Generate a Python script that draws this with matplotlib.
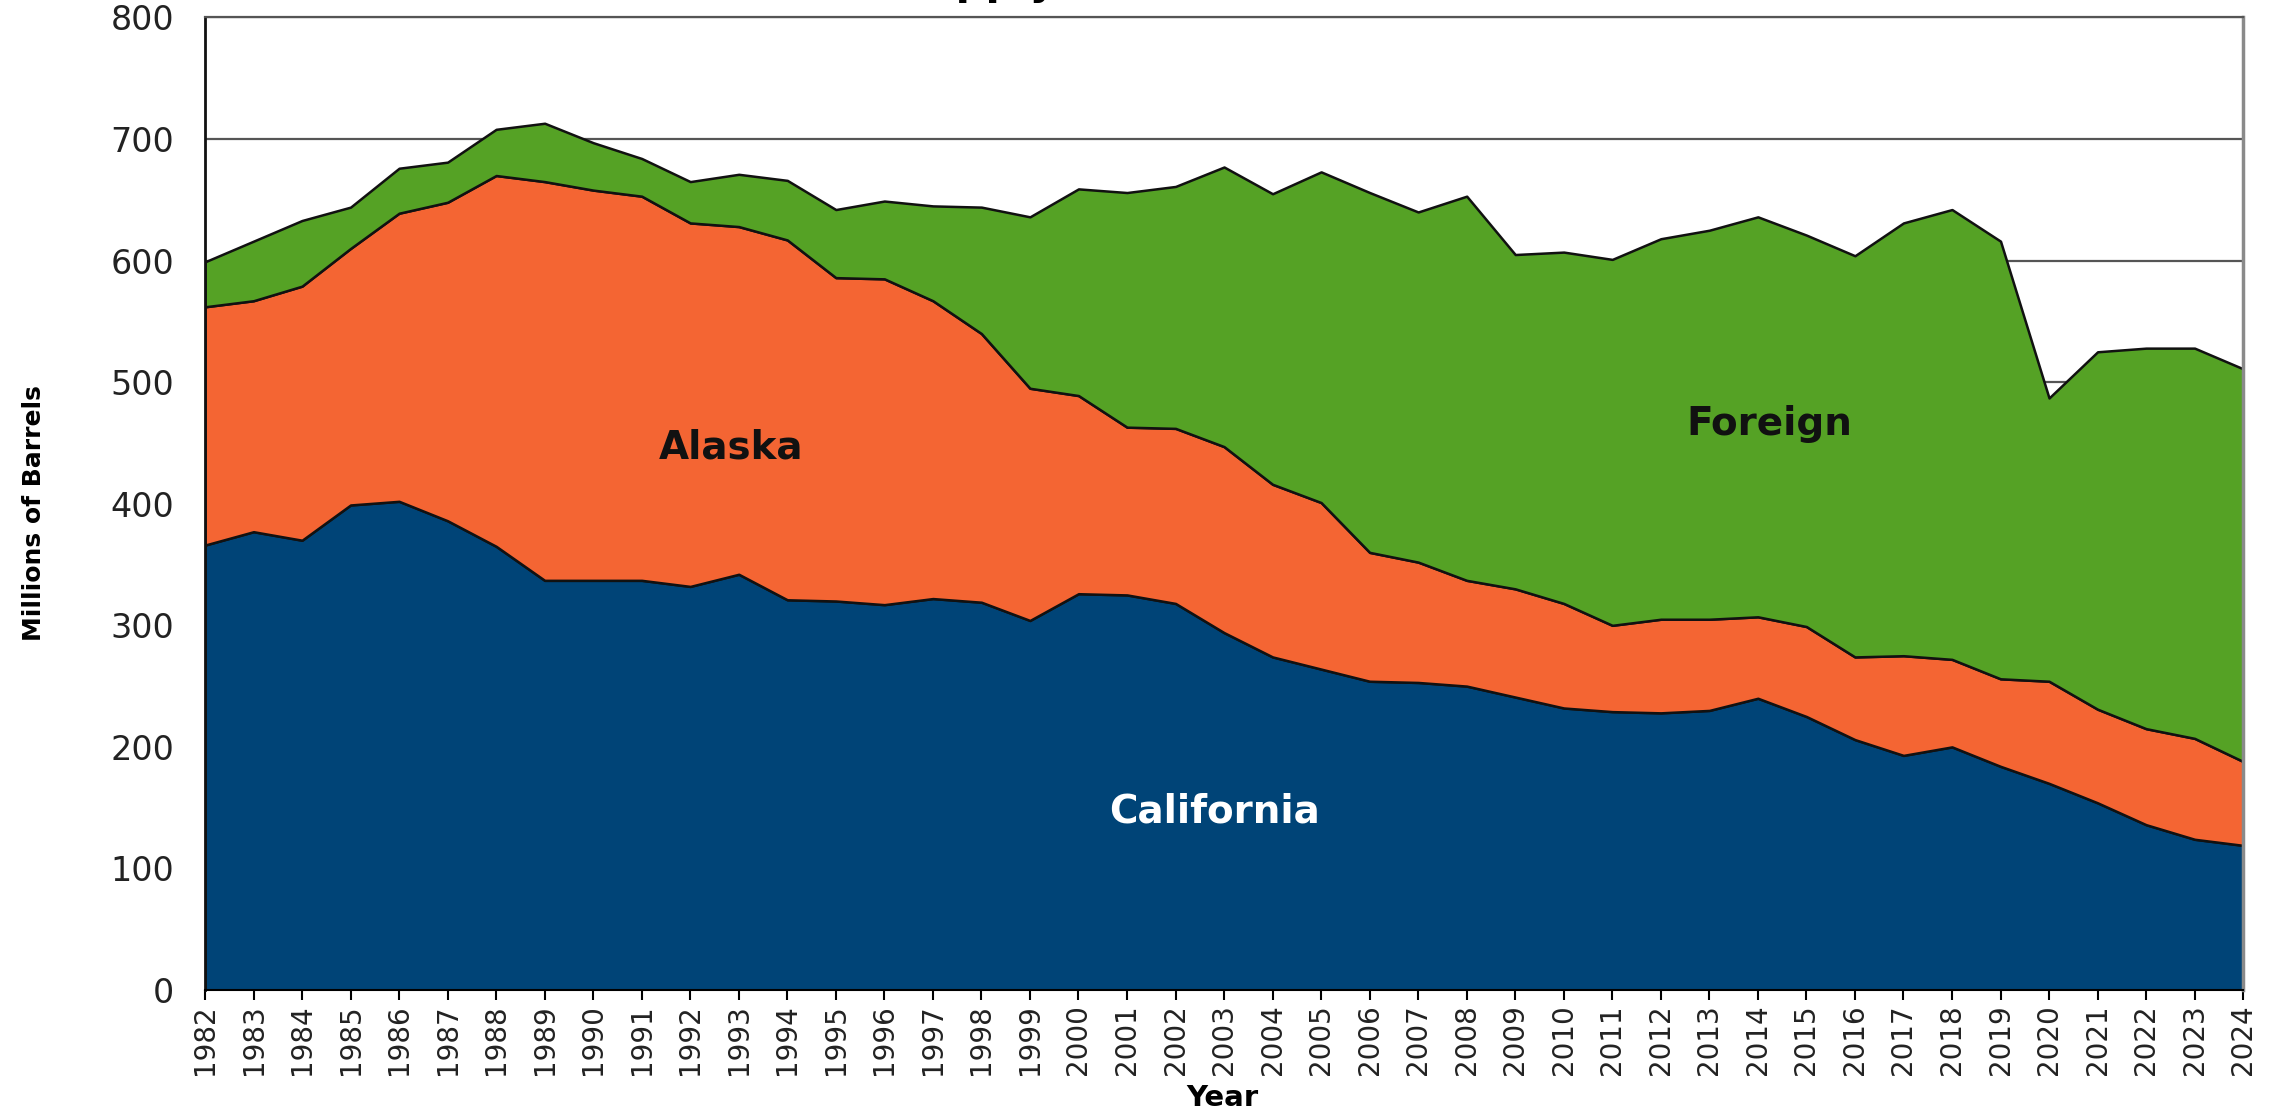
import numpy as np
import matplotlib
matplotlib.use("Agg")
import matplotlib.pyplot as plt

years = np.arange(1982, 2025)

# millions of barrels by source
california = [366, 377, 370, 399, 402, 386, 365, 337, 337, 337, 332, 342, 321, 320, 317,
              322, 319, 304, 326, 325, 318, 294, 274, 264, 254, 253, 250, 241, 232, 229,
              228, 230, 240, 225, 206, 193, 200, 184, 170, 154, 136, 124, 119]
alaska = [196, 190, 209, 211, 237, 262, 305, 328, 321, 316, 299, 286, 296, 266, 268,
          245, 221, 191, 163, 138, 144, 153, 142, 137, 106, 99, 87, 89, 86, 71,
          77, 75, 67, 74, 68, 82, 72, 72, 84, 77, 79, 83, 69]
foreign = [37, 49, 54, 34, 37, 33, 38, 48, 39, 31, 34, 43, 49, 56, 64,
           78, 104, 141, 170, 193, 199, 230, 239, 272, 296, 288, 316, 275, 289, 301,
           313, 320, 329, 322, 330, 356, 370, 360, 233, 294, 313, 321, 323]

colors = ["#004477", "#F46533", "#55A225"]

fig = plt.figure(figsize=(22.75, 11.13), dpi=100)
ax = fig.add_axes([0.0901, 0.1105, 0.8959, 0.8738])

ax.stackplot(years, california, alaska, foreign, colors=colors,
             edgecolor="#111111", linewidth=1.8, zorder=2)

ax.set_xlim(1982, 2024)
ax.set_ylim(0, 800)
ax.set_yticks(np.arange(0, 801, 100))
ax.set_xticks(years)
ax.set_xticklabels([str(y) for y in years], rotation=90, fontsize=20)
ax.tick_params(axis="y", length=0, pad=22, labelsize=24, labelcolor="#222222")
ax.tick_params(axis="x", length=7, width=1.5, pad=3, labelcolor="#222222")

ax.yaxis.grid(True, color="#555555", linewidth=1.6, zorder=0)
ax.set_axisbelow(True)

ax.spines["left"].set_linewidth(2)
ax.spines["left"].set_color("#111111")
ax.spines["bottom"].set_linewidth(1.5)
ax.spines["top"].set_color("#555555")
ax.spines["top"].set_linewidth(1.6)
ax.spines["right"].set_color("#8a8a8a")
ax.spines["right"].set_linewidth(2.5)

ax.set_ylabel("Millions of Barrels", fontsize=18, fontweight="bold", labelpad=0)
ax.yaxis.set_label_coords(-0.078, 0.49)
ax.set_xlabel("Year", fontsize=21, fontweight="bold")
ax.xaxis.set_label_coords(0.499, -0.097)

ax.text(1992.84, 446, "Alaska", fontsize=28, fontweight="bold", color="#111111",
        ha="center", va="center", zorder=3)
ax.text(2014.23, 466, "Foreign", fontsize=28, fontweight="bold", color="#111111",
        ha="center", va="center", zorder=3)
ax.text(2002.8, 147, "California", fontsize=28, fontweight="bold", color="white",
        ha="center", va="center", zorder=3)

# title sits mostly above the visible area, only the descenders show
fig.text(0.394, 1.0054, "Supply", fontsize=30, fontweight="bold", ha="left", va="baseline")

fig.savefig("out.png", dpi=100)
